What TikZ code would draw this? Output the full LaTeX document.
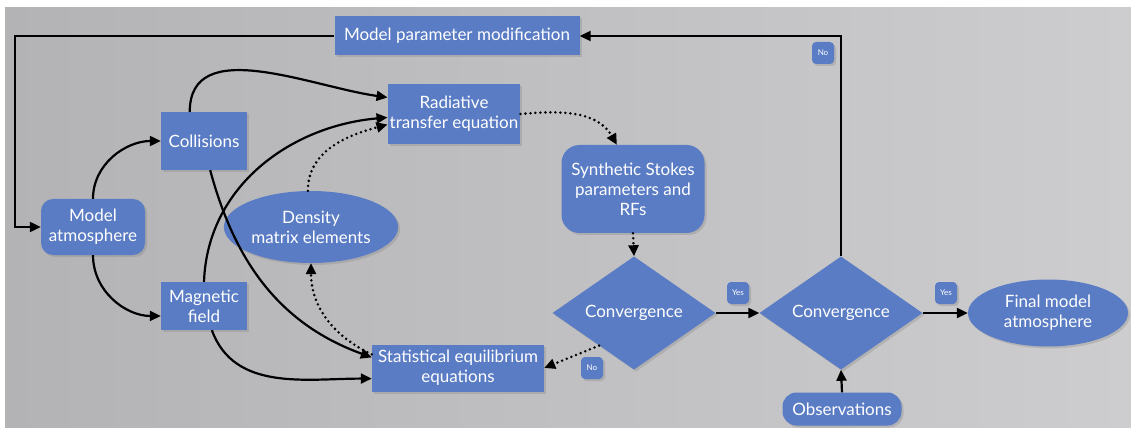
\documentclass[tikz,border=0pt]{standalone}
\usepackage{fontspec}
\setmainfont{Lato}
\usetikzlibrary{shapes.geometric,arrows.meta,shadows}

\definecolor{boxblue}{HTML}{5A7CC4}
\definecolor{metaldark}{HTML}{B3B3B6}
\definecolor{metallight}{HTML}{CDCDCF}

\tikzset{
  base/.style={fill=boxblue, text=white, align=center, inner sep=2pt,
    font=\fontsize{17}{20}\selectfont,
    drop shadow={shadow xshift=2pt, shadow yshift=-2pt, opacity=0.3}},
  box/.style={base, rectangle},
  softbox/.style={base, rectangle, rounded corners=#1},
  oval/.style={base, ellipse},
  decision/.style={base, diamond, inner sep=0pt},
  tag/.style={base, rectangle, rounded corners=4pt, minimum size=22pt,
    inner sep=0pt, font=\fontsize{8}{9}\selectfont},
  link/.style={line width=2.2pt, -{Triangle[length=11pt,width=10pt]}},
  hint/.style={line width=2.8pt, line cap=round, dash pattern=on 0pt off 5pt,
    -{Triangle[length=11pt,width=10pt]}}
}

\begin{document}
\begin{tikzpicture}[x=1pt,y=1pt]
  % 1. Canvas and brushed metal background
  \useasboundingbox (0,0) rectangle (1131,-430);
  \fill[white] (0,0) rectangle (1131,-430);
  \shade[left color=metaldark, right color=metallight] (5,-8) rectangle (1131,-427);

  % 2. The nodes
  \node[box, minimum width=245pt, minimum height=39pt] (mpm) at (457,-36) {Model parameter modification};
  \node[softbox=12pt, minimum width=104pt, minimum height=56pt] (atm) at (93,-227) {Model\\atmosphere};
  \node[box, minimum width=86pt, minimum height=58pt] (coll) at (204,-141) {Collisions};
  \node[box, minimum width=86pt, minimum height=48pt] (mag) at (204,-306) {Magnetic\\field};
  \node[box, minimum width=132pt, minimum height=60pt] (rad) at (454,-114) {Radiative\\transfer equation};
  \node[oval, minimum width=148pt, minimum height=72pt] (dens) at (311,-227) {Density\\matrix elements};
  \node[box, minimum width=172pt, minimum height=47pt] (stat) at (458,-368) {Statistical equilibrium\\equations};
  \node[softbox=18pt, minimum width=143pt, minimum height=88pt] (synth) at (633,-189) {Synthetic Stokes\\parameters and\\RFs};
  \node[decision, minimum width=163pt, minimum height=81pt] (conv1) at (634,-313) {Convergence};
  \node[decision, minimum width=163pt, minimum height=81pt] (conv2) at (841,-313) {Convergence};
  \node[oval, minimum width=160pt, minimum height=67pt] (final) at (1048,-313) {Final model\\atmosphere};
  \node[softbox=14pt, minimum width=119pt, minimum height=33pt] (obs) at (842,-409) {Observations};

  % 3. Yes / No tags
  \node[tag] (yes1) at (738,-293) {Yes};
  \node[tag] (yes2) at (946,-293) {Yes};
  \node[tag] (no1) at (823,-53) {No};
  \node[tag] (no2) at (592,-368) {No};

  % 4. Solid connectors
  \coordinate (corner) at (15,-36);
  \draw[link] (mpm.west) -- (corner) |- (atm.west);
  \draw[link] (conv2.north) |- (mpm.east);
  \draw[link] (atm.north) to[out=90,in=180] (coll.west);
  \draw[link] (atm.south) to[out=-90,in=180] (mag.193);
  \draw[link] (coll.116) to[out=90,in=172] (rad.166);
  \draw[link] (coll.-78) to[out=-75,in=160] (stat.173);
  \draw[link] (mag.north) to[out=88,in=185] (rad.183);
  \draw[link] (mag.-72) to[out=-70,in=180] (stat.187);
  \draw[link] (conv1.east) -- (conv2.west);
  \draw[link] (conv2.east) -- (final.west);
  \draw[link] (obs.north) -- (conv2.south);

  % 5. Dotted connectors
  \draw[hint] (dens.95) to[out=90,in=195] (rad.189);
  \draw[hint] (stat.171) to[out=155,in=-90] (dens.south);
  \draw[hint] (rad.east) to[out=5,in=120] (synth.110);
  \draw[hint] (synth.south) -- (conv1.north);
  \draw[hint] (conv1.-137) -- (stat.east);
\end{tikzpicture}
\end{document}
